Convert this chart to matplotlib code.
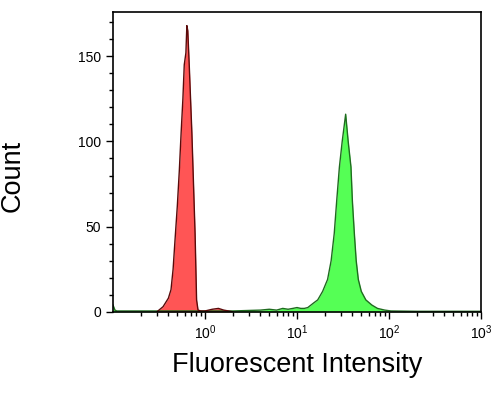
import matplotlib
matplotlib.use("Agg")
import matplotlib.pyplot as plt
from matplotlib.ticker import LogLocator, MultipleLocator, NullFormatter

plt.rcParams["font.family"] = ["Liberation Sans", "DejaVu Sans"]

# red peak (unstained / control)
red_x = [0.30, 0.35, 0.40, 0.427, 0.45, 0.472, 0.50, 0.526, 0.55, 0.575, 0.595,
         0.62, 0.635, 0.65, 0.675, 0.70, 0.72, 0.75, 0.78, 0.80, 0.81, 0.84,
         0.90, 1.0, 1.2, 1.4, 1.6, 1.8, 2.0]
red_counts = [0, 3, 8, 13, 25, 42, 62, 83, 105, 125, 145,
              152, 168, 165, 144, 122, 105, 75, 46, 20, 7, 1,
              0.5, 0.5, 1.5, 2, 1, 0.5, 0]

# green peak (stained sample) incl. baseline
green_x = [0.1, 0.105, 0.11, 0.2, 0.5, 1, 2, 3, 4, 5, 6, 7, 8, 9, 10, 11, 12,
           13.1, 15, 16.8, 19, 21.5, 23.5, 25.4, 27, 28.9, 31, 33.8, 36, 38.6,
           40, 42, 44, 46.4, 50, 56, 65, 75, 90, 105, 200, 500, 1000]
green_counts = [4, 1, 0.5, 0.5, 0.5, 0.5, 0.5, 0.8, 1, 1.5, 1, 2, 1.5, 2, 2.5,
                2, 2, 2.5, 5, 7, 12, 19, 30, 46, 65, 85, 100, 116, 100, 85,
                65, 46, 30, 19, 12, 7, 4, 2, 1, 0.5, 0.3, 0.3, 0.3]

fig = plt.figure(figsize=(5, 4.13), dpi=100)
ax = fig.add_axes([0.226, 0.245, 0.736, 0.726])

ax.fill_between(green_x, green_counts, color="#55ff55", linewidth=0)
ax.plot(green_x, green_counts, color="#1f6b1f", linewidth=1.0)
ax.fill_between(red_x, red_counts, color="#ff5555", linewidth=0)
ax.plot(red_x, red_counts, color="#5a0a0a", linewidth=1.0)

ax.set_xscale("log")
ax.set_xlim(0.1, 1000)
ax.set_ylim(0, 176)
ax.xaxis.set_major_locator(LogLocator(base=10, subs=(1.0,)))
ax.xaxis.set_minor_locator(LogLocator(base=10, subs=range(2, 10)))
ax.xaxis.set_minor_formatter(NullFormatter())
ax.set_xticks([1, 10, 100, 1000])
ax.yaxis.set_major_locator(MultipleLocator(50))
ax.yaxis.set_minor_locator(MultipleLocator(10))

ax.tick_params(which="major", length=5, width=1, labelsize=10)
ax.tick_params(which="minor", length=3, width=1)
for s in ax.spines.values():
    s.set_linewidth(1.2)

fig.text(0.595, 0.099, "Fluorescent Intensity", fontsize=19.5,
         ha="center", va="baseline")
fig.text(0.025, 0.574, "Count", rotation=90, fontsize=19.5,
         ha="center", va="center")

fig.savefig("out.png", dpi=100)
